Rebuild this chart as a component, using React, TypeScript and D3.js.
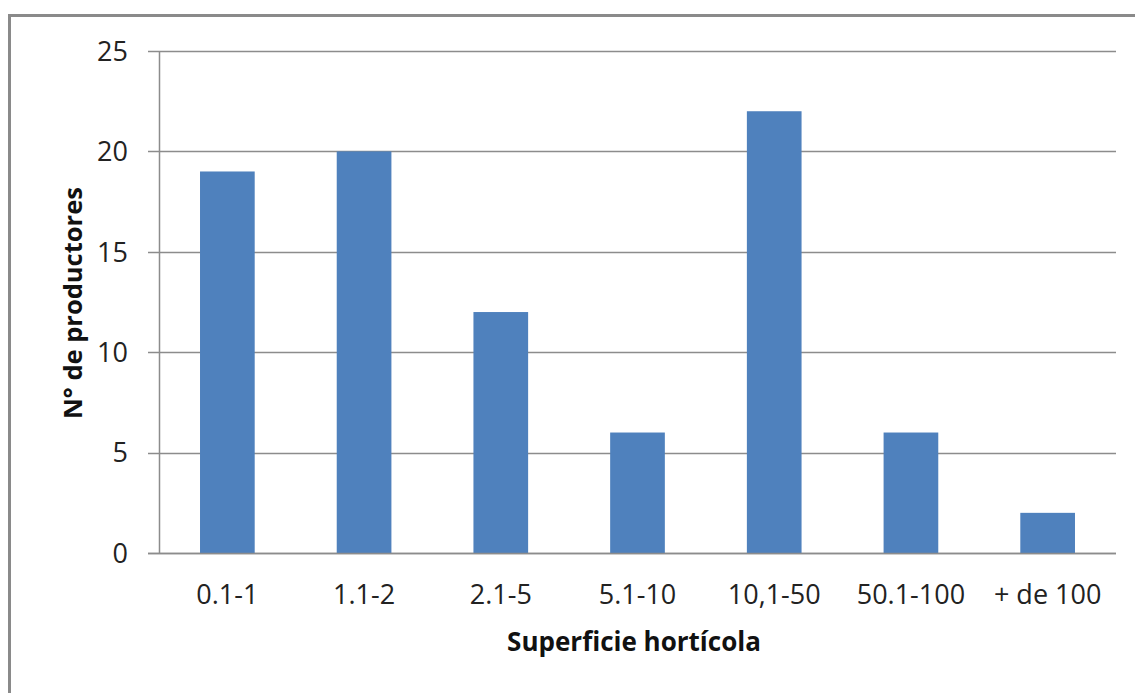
import React from "react";
import * as d3 from "d3";

const categories = ["0.1-1", "1.1-2", "2.1-5", "5.1-10", "10,1-50", "50.1-100", "+ de 100"];
const values = [19, 20, 12, 6, 22, 6, 2];
const yTicks = [0, 5, 10, 15, 20, 25];
const xTitle = "Superficie hortícola";
const yTitle = "N° de productores";

export default function App() {
  const W = 1135, H = 693;
  const left = 159, right = 1116, top = 51, bottom = 553;
  const x = d3.scaleBand<string>().domain(categories).range([left, right]).paddingInner(0.6).paddingOuter(0.3);
  const y = d3.scaleLinear().domain([0, 25]).range([bottom, top]);
  const font = "'Open Sans', sans-serif";
  const grid = "#8c8c8c";
  return (
    <svg width={W} height={H} style={{ position: "absolute", left: 0, top: 0, background: "#fff" }}>
      <rect x={9.5} y={15.5} width={1200} height={800} fill="#fff" stroke="#8a8a8a" strokeWidth={3} />
      {yTicks.map((t) => (
        <g key={t}>
          <line x1={148} x2={right} y1={Math.round(y(t)) + 0.5} y2={Math.round(y(t)) + 0.5} stroke={grid} strokeWidth={1.5} />
          <text x={128} y={y(t)} dy="0.36em" textAnchor="end" fontFamily={font} fontSize={27} fill="#222">{t}</text>
        </g>
      ))}
      <line x1={left + 0.5} x2={left + 0.5} y1={top} y2={bottom} stroke={grid} strokeWidth={1.5} />
      {categories.map((c, i) => (
        <rect key={c} x={x(c)} y={y(values[i])} width={x.bandwidth()} height={y(0) - y(values[i])} fill="#4f81bd" />
      ))}
      <line x1={148} x2={right} y1={Math.round(y(0)) + 0.5} y2={Math.round(y(0)) + 0.5} stroke={grid} strokeWidth={1.5} />
      {categories.map((c) => (
        <text key={c} x={(x(c) as number) + x.bandwidth() / 2} y={604} textAnchor="middle" fontFamily={font} fontSize={27} fill="#222">{c}</text>
      ))}
      <text x={634} y={651} textAnchor="middle" fontFamily={font} fontSize={26} fontWeight="bold" fill="#111">{xTitle}</text>
      <text transform="translate(82,303) rotate(-90)" textAnchor="middle" fontFamily={font} fontSize={25.5} fontWeight="bold" fill="#111">{yTitle}</text>
    </svg>
  );
}
